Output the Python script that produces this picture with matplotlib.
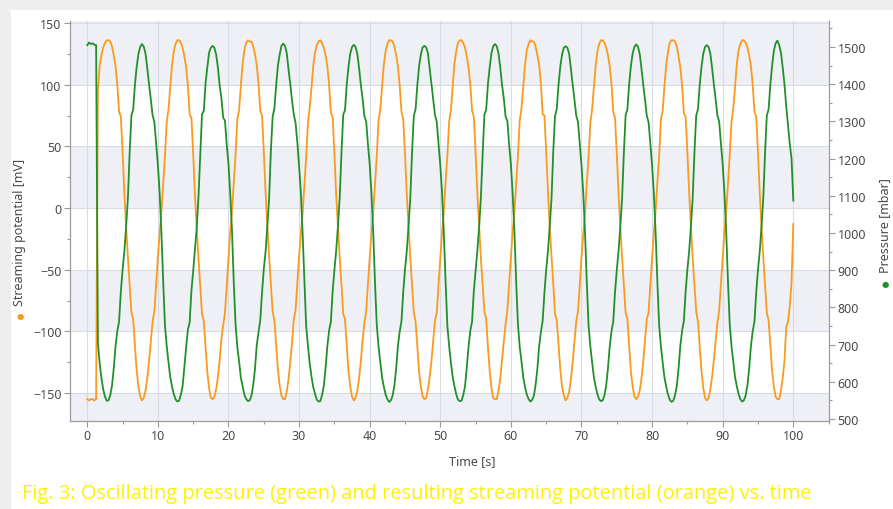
import numpy as np
import matplotlib
matplotlib.use("Agg")
import matplotlib.pyplot as plt
from matplotlib.patches import Rectangle
from matplotlib.ticker import MultipleLocator

plt.rcParams['font.family'] = ['Noto Sans', 'DejaVu Sans']

# sample times [s], every 0.25 s
time_s = np.arange(0, 100.001, 0.25)

# streaming potential [mV], orange (one cycle per row pair)
orange_mv = [
    -155, -156, -155, -155, -156, -155,
    95, 115, 124, 130, 134, 136,
    136, 135, 131, 124, 115, 100, 78, 74, 45, 12, -15, -40, -62, -85, -90, -112, -132, -145, -153, -156,
    -154, -148, -138, -124, -108, -92, -84, -62, -40, -20, -3, 20, 42, 70, 80, 98, 116, 127, 133, 136,
    136, 134, 130, 123, 114, 99, 76, 73, 44, 10, -16, -41, -63, -86, -92, -113, -133, -146, -154, -155,
    -153, -147, -137, -123, -106, -95, -85, -63, -41, -19, -2, 21, 43, 72, 79, 99, 117, 128, 134, 136,
    135, 135, 131, 125, 116, 101, 79, 75, 46, 13, -14, -39, -61, -84, -91, -111, -131, -144, -152, -155,
    -155, -149, -139, -125, -109, -90, -83, -61, -39, -21, -4, 19, 41, 69, 81, 97, 115, 126, 132, 135,
    136, 134, 130, 124, 115, 100, 77, 74, 45, 11, -15, -40, -62, -86, -90, -112, -132, -145, -153, -156,
    -154, -148, -138, -124, -107, -93, -84, -62, -40, -20, -3, 20, 42, 71, 80, 98, 116, 127, 133, 136,
    136, 135, 131, 124, 115, 99, 78, 72, 44, 12, -15, -40, -63, -85, -92, -112, -133, -145, -153, -155,
    -154, -147, -137, -124, -108, -91, -85, -62, -41, -20, -2, 21, 42, 70, 79, 98, 117, 127, 134, 136,
    136, 134, 130, 123, 114, 100, 79, 74, 45, 12, -14, -41, -62, -84, -90, -113, -132, -146, -154, -155,
    -155, -148, -138, -123, -108, -94, -83, -61, -40, -19, -3, 20, 43, 71, 81, 98, 116, 128, 133, 136,
    135, 135, 131, 124, 116, 101, 76, 75, 46, 13, -15, -39, -61, -86, -91, -111, -131, -145, -152, -156,
    -154, -149, -139, -125, -109, -92, -84, -63, -40, -21, -4, 20, 41, 69, 80, 97, 115, 127, 133, 136,
    136, 134, 130, 124, 115, 100, 78, 73, 44, 11, -16, -40, -62, -85, -90, -112, -133, -145, -153, -155,
    -153, -148, -138, -124, -107, -90, -85, -62, -41, -20, -2, 21, 42, 72, 79, 99, 116, 127, 134, 136,
    136, 135, 131, 123, 114, 99, 77, 74, 45, 12, -15, -41, -63, -84, -92, -113, -132, -146, -154, -156,
    -154, -147, -137, -123, -108, -93, -83, -61, -40, -19, -3, 20, 43, 70, 81, 98, 117, 128, 133, 136,
    136, 134, 130, 124, 115, 100, 78, 74, 45, 12, -15, -40, -62, -85, -91, -112, -132, -145, -153, -155,
    -155, -148, -138, -124, -97, -92, -80, -60, -13,
]

# pressure [mbar], green
green_mbar = [
    1505, 1512, 1508, 1510, 1506, 1505,
    705, 650, 610, 580, 560, 549,
    550, 563, 590, 636, 696, 736, 762, 842, 901, 951, 1018, 1094, 1216, 1316, 1332, 1399, 1448, 1482, 1501, 1508,
    1501, 1482, 1442, 1399, 1359, 1316, 1299, 1240, 1183, 1107, 1001, 868, 752, 696, 653, 613, 587, 567, 553, 547,
    549, 565, 588, 640, 692, 740, 760, 845, 898, 955, 1015, 1098, 1210, 1320, 1328, 1402, 1445, 1485, 1498, 1503,
    1498, 1480, 1445, 1396, 1362, 1310, 1302, 1236, 1186, 1104, 1004, 865, 755, 693, 655, 611, 588, 565, 554, 548,
    550, 562, 591, 634, 698, 733, 765, 840, 903, 949, 1020, 1090, 1220, 1312, 1335, 1397, 1450, 1480, 1503, 1509,
    1503, 1484, 1440, 1401, 1356, 1318, 1296, 1243, 1180, 1110, 998, 870, 750, 698, 651, 615, 586, 568, 552, 547,
    548, 564, 589, 637, 695, 738, 761, 843, 900, 952, 1017, 1095, 1214, 1318, 1330, 1400, 1447, 1483, 1500, 1506,
    1500, 1481, 1443, 1398, 1360, 1314, 1300, 1239, 1184, 1106, 1002, 867, 753, 695, 654, 612, 587, 566, 553, 546,
    550, 563, 590, 636, 697, 735, 763, 841, 902, 950, 1019, 1093, 1218, 1315, 1333, 1398, 1449, 1481, 1499, 1503,
    1499, 1483, 1441, 1400, 1358, 1317, 1298, 1241, 1182, 1108, 1000, 869, 751, 697, 652, 614, 588, 567, 552, 548,
    549, 564, 588, 638, 694, 737, 762, 844, 899, 953, 1016, 1096, 1212, 1319, 1331, 1401, 1446, 1484, 1502, 1508,
    1502, 1482, 1444, 1397, 1361, 1313, 1301, 1238, 1185, 1105, 1003, 866, 754, 694, 655, 612, 586, 566, 554, 547,
    551, 562, 591, 635, 696, 734, 764, 840, 901, 951, 1018, 1092, 1219, 1314, 1334, 1399, 1448, 1480, 1498, 1502,
    1498, 1482, 1442, 1399, 1359, 1316, 1299, 1240, 1183, 1107, 1001, 868, 752, 696, 653, 613, 587, 567, 553, 548,
    550, 563, 590, 637, 695, 736, 762, 842, 900, 952, 1017, 1094, 1215, 1317, 1332, 1400, 1449, 1483, 1501, 1507,
    1501, 1481, 1441, 1398, 1358, 1315, 1298, 1239, 1182, 1106, 1000, 867, 751, 695, 652, 612, 587, 566, 552, 546,
    549, 564, 589, 636, 697, 737, 763, 843, 902, 951, 1019, 1095, 1217, 1316, 1333, 1399, 1447, 1482, 1500, 1505,
    1500, 1482, 1443, 1400, 1360, 1316, 1300, 1240, 1184, 1107, 1002, 868, 753, 696, 654, 613, 588, 567, 553, 547,
    550, 563, 590, 636, 696, 736, 762, 842, 901, 951, 1018, 1094, 1216, 1316, 1332, 1400, 1450, 1490, 1510, 1517,
    1505, 1485, 1445, 1400, 1340, 1290, 1240, 1200, 1087,
]

orange = '#F99B1E'
green = '#22902A'
text_col = '#4a4a4a'

fig = plt.figure(figsize=(8.93, 5.10), dpi=100)
fig.patch.set_facecolor('#eeeeee')
card = Rectangle((11 / 893, 0), 1, 1 - 11 / 510, transform=fig.transFigure,
                 facecolor='white', edgecolor='none', zorder=-10)
fig.add_artist(card)

ax = fig.add_axes([70 / 893, 1 - 422 / 510, 759.3 / 893, 400.3 / 510])
ax.set_xlim(-2.45, 105.1)
ax.set_ylim(-172.7, 151.9)

# alternating bands
for lo, hi in [(100, 160), (0, 50), (-100, -50), (-180, -150)]:
    ax.axhspan(lo, hi, color='#eef0f5', zorder=0, lw=0)
ax.set_facecolor('white')
ax.grid(True, which='major', color='#d6dbe4', lw=0.8, zorder=0.5)
ax.set_axisbelow(True)

ax.plot(time_s, orange_mv, color=orange, lw=1.3, zorder=3)

ax2 = ax.twinx()
ax2.set_ylim(494.6, 1570.7)
ax2.plot(time_s, green_mbar, color=green, lw=1.3, zorder=3)

ax.xaxis.set_major_locator(MultipleLocator(10))
ax.xaxis.set_minor_locator(MultipleLocator(5))
ax.yaxis.set_major_locator(MultipleLocator(50))
ax.yaxis.set_minor_locator(MultipleLocator(25))
ax2.yaxis.set_major_locator(MultipleLocator(100))
ax2.yaxis.set_minor_locator(MultipleLocator(50))
ax.set_xticks(np.arange(0, 101, 10))
ax.set_yticks(np.arange(-150, 151, 50))
ax2.set_yticks(np.arange(500, 1501, 100))

for a in (ax, ax2):
    for s in a.spines.values():
        s.set_color('#9a9a9a')
        s.set_linewidth(0.8)
    a.spines['top'].set_visible(False)
    a.tick_params(which='major', length=4, width=0.8, color='#9a9a9a',
                  labelsize=9, labelcolor=text_col, pad=2)
    a.tick_params(which='minor', length=2.5, width=0.8, color='#9a9a9a')

# axis labels
fig.text(20 / 893, 1 - 232 / 510, 'Streaming potential [mV]', rotation=90,
         ha='center', va='center', fontsize=9, color=text_col)
fig.text(20 / 893, 1 - 317 / 510, '●', ha='center', va='center', fontsize=6, color=orange)
fig.text(885 / 893, 1 - 226 / 510, 'Pressure [mbar]', rotation=90,
         ha='center', va='center', fontsize=9, color=text_col)
fig.text(885 / 893, 1 - 284 / 510, '●', ha='center', va='center', fontsize=6, color=green)
fig.text(472 / 893, 1 - 462 / 510, 'Time [s]', ha='center', va='center',
         fontsize=9, color=text_col)

fig.text(22 / 893, 1 - 494 / 510,
         'Fig. 3: Oscillating pressure (green) and resulting streaming potential (orange) vs. time',
         ha='left', va='center', fontsize=14.4, color='#FFF200',
         family=['Liberation Sans Narrow', 'Open Sans', 'DejaVu Sans'])

fig.savefig('out.png', dpi=100, facecolor=fig.get_facecolor())
